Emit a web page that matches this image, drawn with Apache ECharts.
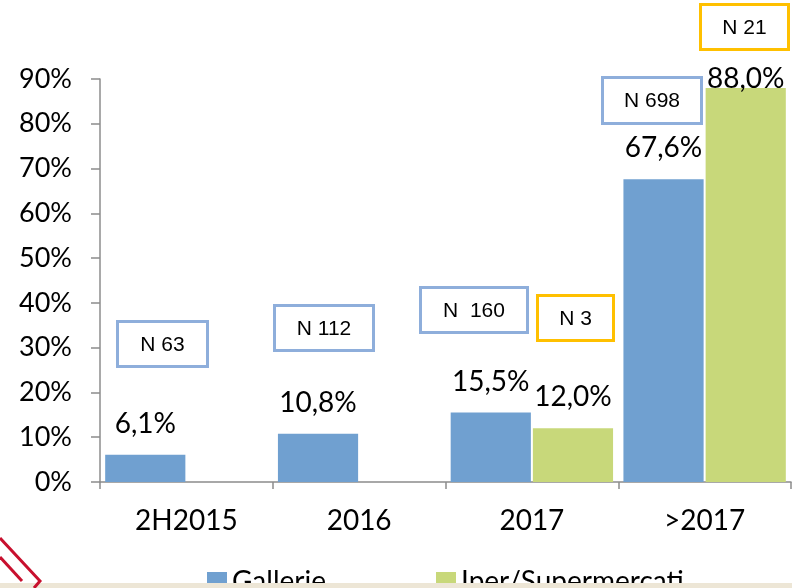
<!DOCTYPE html>
<html>
<head>
<meta charset="utf-8">
<title>Gallerie vs Iper/Supermercati</title>
<script src="https://cdn.jsdelivr.net/npm/echarts@6/dist/echarts.min.js"></script>
<style>
    html, body { margin: 0; padding: 0; background: #fff; }
    #chart { width: 792px; height: 588px; }
</style>
</head>
<body>
<div id="chart"></div>
<script>
// ============================================
// 数据
// ============================================
const categories = ['2H2015', '2016', '2017', '>2017'];
const gallerie = [6.1, 10.8, 15.5, 67.6];
const iper = [null, null, 12.0, 88.0];
const yTicks = [0, 10, 20, 30, 40, 50, 60, 70, 80, 90];

// N del campione (testo nei riquadri)
const sampleLabels = ['N 63', 'N 112', 'N  160', 'N 3', 'N 698', 'N 21'];
const sampleSeries = ['Gallerie', 'Gallerie', 'Gallerie', 'Iper/Supermercati', 'Gallerie', 'Iper/Supermercati'];

// riquadri: posizione sulla slide [x0, y0, x1, y1]
const boxLayout = [
    [116, 320, 209, 368],
    [273, 304, 375, 352],
    [419, 286, 529, 334],
    [536, 294, 615, 342],
    [601, 76, 703, 125],
    [699, 3, 790, 51]
];

const BLUE = '#70a0d0';
const GREEN = '#c8d87a';
const BOX_BLUE = '#8eaedb';
const BOX_YELLOW = '#ffc000';
const AXIS_GRAY = '#8c8c8c';
const FONT = 'Lato, "Open Sans", sans-serif';

// ============================================
// 工具函数
// ============================================
function fmtPct(v) {
    return v.toFixed(1).replace('.', ',') + '%';
}

const yMax = yTicks[yTicks.length - 1];

// label vicino al bordo superiore: Excel lo abbassa sulla barra
function buildData(values) {
    return values.map(v => {
        if (v !== null && v > yMax - 5) {
            return { value: v, label: { distance: -5 } };
        }
        return v;
    });
}

function boxGraphic(i) {
    const [x0, y0, x1, y1] = boxLayout[i];
    const color = sampleSeries[i] === 'Gallerie' ? BOX_BLUE : BOX_YELLOW;
    return {
        type: 'group',
        z: 50,
        children: [
            {
                type: 'rect',
                shape: { x: x0 + 1.5, y: y0 + 1.5, width: x1 - x0 - 3, height: y1 - y0 - 3 },
                style: { fill: '#fff', stroke: color, lineWidth: 3 }
            },
            {
                type: 'text',
                x: (x0 + x1) / 2,
                y: (y0 + y1) / 2 + 1,
                style: {
                    text: sampleLabels[i],
                    fill: '#000',
                    fontSize: 21,
                    fontFamily: '"Liberation Sans", Arial, sans-serif',
                    align: 'center',
                    verticalAlign: 'middle'
                }
            }
        ]
    };
}

// ============================================
// 渲染
// ============================================
const chart = echarts.init(document.getElementById('chart'));

const labelStyle = {
    show: true,
    position: 'top',
    distance: 17,
    color: '#000',
    fontSize: 28,
    fontFamily: FONT,
    formatter: p => fmtPct(p.value)
};

const option = {
    animation: false,
    backgroundColor: '#fff',
    textStyle: { fontFamily: FONT },
    grid: { left: 100, right: 1, top: 79, bottom: 106 },
    legend: [
        {
            data: ['Gallerie'],
            left: 202, top: 563,
            itemWidth: 20, itemHeight: 20, icon: 'rect',
            textStyle: { fontSize: 28, color: '#000', fontFamily: FONT }
        },
        {
            data: ['Iper/Supermercati'],
            left: 431, top: 563,
            itemWidth: 20, itemHeight: 20, icon: 'rect',
            textStyle: { fontSize: 28, color: '#000', fontFamily: FONT }
        }
    ],
    xAxis: {
        type: 'category',
        data: categories,
        axisLine: { lineStyle: { color: AXIS_GRAY, width: 1.5 } },
        axisTick: { show: true, length: 7, lineStyle: { color: AXIS_GRAY, width: 1.5 } },
        axisLabel: { color: '#000', fontSize: 28, margin: 25, fontFamily: FONT }
    },
    yAxis: {
        type: 'value',
        min: 0,
        max: yMax,
        interval: 10,
        splitLine: { show: false },
        axisLine: { show: true, lineStyle: { color: AXIS_GRAY, width: 1.5 } },
        axisTick: { show: true, length: 9, lineStyle: { color: AXIS_GRAY, width: 1.5 } },
        axisLabel: { color: '#000', fontSize: 27, margin: 28, fontFamily: FONT, formatter: '{value}%' }
    },
    series: [
        {
            name: 'Gallerie',
            type: 'bar',
            data: buildData(gallerie),
            itemStyle: { color: BLUE },
            barGap: '2.5%',
            barCategoryGap: '6%',
            label: labelStyle
        },
        {
            name: 'Iper/Supermercati',
            type: 'bar',
            data: buildData(iper),
            itemStyle: { color: GREEN },
            label: labelStyle
        }
    ],
    graphic: [
        ...boxLayout.map((_, i) => boxGraphic(i)),
        // fascia beige in basso
        {
            type: 'rect',
            z: 100,
            shape: { x: 0, y: 583, width: 792, height: 5 },
            style: { fill: '#ede6d6' }
        },
        // decorazione rossa in basso a sinistra
        {
            type: 'polyline',
            z: 101,
            shape: { points: [[0, 538], [40, 581], [34, 588]] },
            style: { stroke: '#c8102e', lineWidth: 3, fill: null }
        },
        {
            type: 'polyline',
            z: 101,
            shape: { points: [[0, 557], [22, 581]] },
            style: { stroke: '#c8102e', lineWidth: 3, fill: null }
        }
    ]
};

chart.setOption(option);
window.addEventListener('resize', () => chart.resize());
</script>
</body>
</html>
